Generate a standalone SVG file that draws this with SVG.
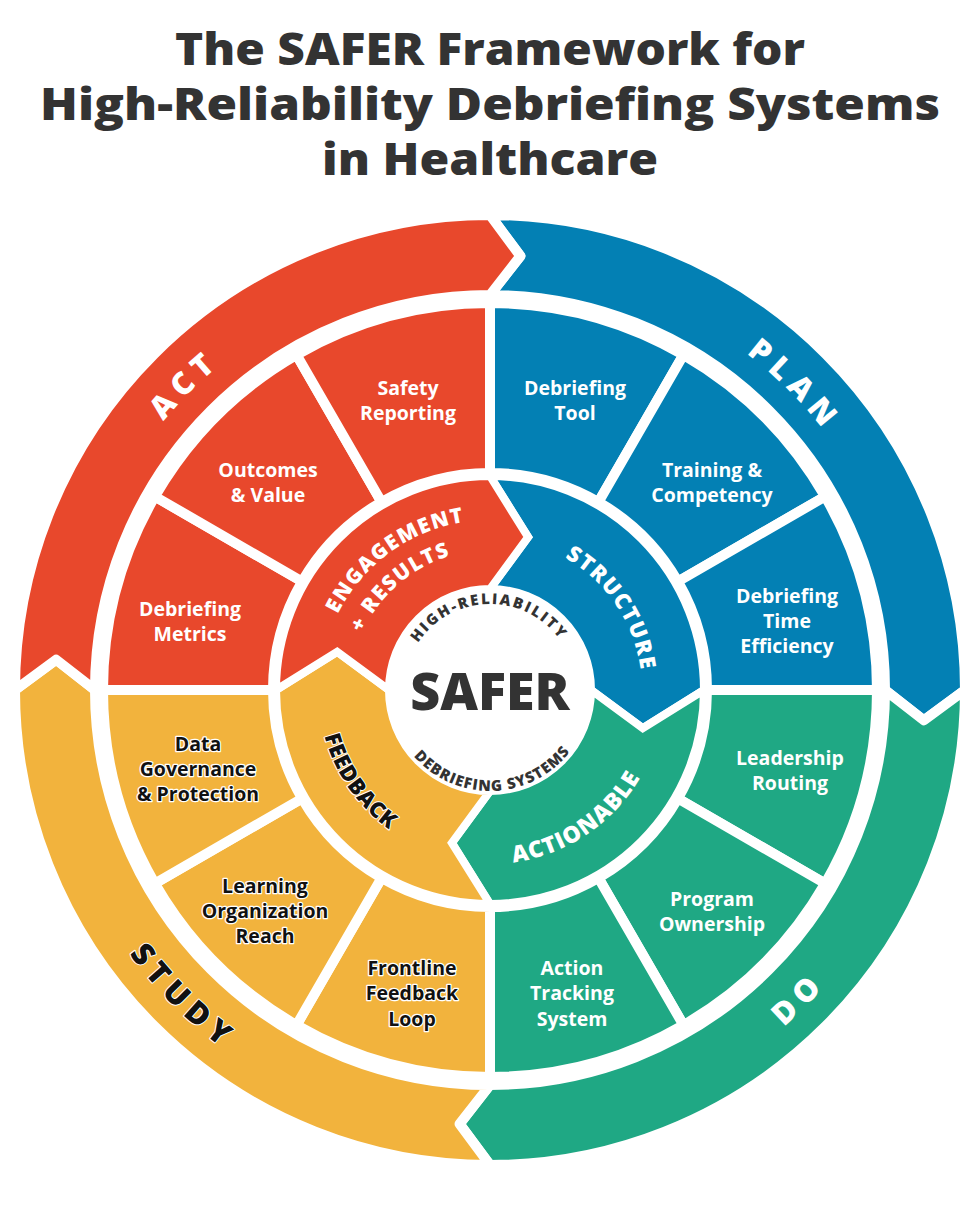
<svg xmlns="http://www.w3.org/2000/svg" xmlns:xlink="http://www.w3.org/1999/xlink" width="980" height="1225" viewBox="0 0 980 1225">
<style>
.title{font-family:"Open Sans","Liberation Sans",sans-serif;font-weight:800;font-size:44px;fill:#333;text-anchor:middle}
.seg{stroke:#fff;stroke-width:10;stroke-linejoin:round}
.inr{stroke:#fff;stroke-width:8}
.st{font-family:"Open Sans","Liberation Sans",sans-serif;font-weight:700;font-size:19.5px;fill:#fff;text-anchor:middle}
.ol{font-family:"Open Sans","Liberation Sans",sans-serif;font-weight:800;font-size:31px;letter-spacing:7px;fill:#fff;text-anchor:middle}
.il{font-family:"Open Sans","Liberation Sans",sans-serif;font-weight:800;font-size:21px;letter-spacing:1.5px;fill:#fff;text-anchor:middle}
.cl{font-family:"Open Sans","Liberation Sans",sans-serif;font-weight:800;font-size:15px;letter-spacing:2px;fill:#333;text-anchor:middle}
text.dk{fill:#111;stroke:#fff;stroke-width:2.5;paint-order:stroke;stroke-linejoin:round}
</style>
<defs>
<path id="oq" d="M0,-475 A475,475 0 0 1 475,0 L433.94,30.35 L395,0 A395,395 0 0 0 0,-395 L30.35,-433.94 Z"/>
<path id="sec" d="M0,-387 A387,387 0 0 1 193.5,-335.15 L108.5,-187.93 A217,217 0 0 0 0,-217 Z"/>
<path id="iq" d="M0,-214 A214,214 0 0 1 214,0 L152.82,38.1 L101,0 A101,101 0 0 0 0,-101 L38.1,-152.82 Z"/>
<path id="cw423" d="M490,1113 A423,423 0 0 1 490,267 A423,423 0 0 1 490,1113"/>
<path id="ccw447" d="M490,243 A447,447 0 0 0 490,1137 A447,447 0 0 0 490,243"/>
<path id="cw170" d="M490,860 A170,170 0 0 1 490,520 A170,170 0 0 1 490,860"/>
<path id="cw140" d="M490,830 A140,140 0 0 1 490,550 A140,140 0 0 1 490,830"/>
<path id="cw152" d="M490,842 A152,152 0 0 1 490,538 A152,152 0 0 1 490,842"/>
<path id="ccw172" d="M490,518 A172,172 0 0 0 490,862 A172,172 0 0 0 490,518"/>
<path id="ccw174" d="M490,516 A174,174 0 0 0 490,864 A174,174 0 0 0 490,516"/>
<path id="cw86" d="M490,776 A86,86 0 0 1 490,604 A86,86 0 0 1 490,776"/>
<path id="ccw101" d="M490,589 A101,101 0 0 0 490,791 A101,101 0 0 0 490,589"/>
</defs>
<rect width="980" height="1225" fill="#fff"/>
<g id="title">
<text class="title" x="490" y="65" textLength="630" lengthAdjust="spacingAndGlyphs">The SAFER Framework for</text>
<text class="title" x="490" y="120" textLength="900" lengthAdjust="spacingAndGlyphs">High-Reliability Debriefing Systems</text>
<text class="title" x="490" y="175" textLength="336" lengthAdjust="spacingAndGlyphs">in Healthcare</text>
</g>
<g id="outer-ring">
<use href="#oq" transform="translate(490 690)" fill="#0380B4" class="seg"/>
<use href="#oq" transform="translate(490 690) rotate(90)" fill="#1FA884" class="seg"/>
<use href="#oq" transform="translate(490 690) rotate(180)" fill="#F2B33D" class="seg"/>
<use href="#oq" transform="translate(490 690) rotate(270)" fill="#E8482C" class="seg"/>
<text class="ol"><textPath href="#cw423" startOffset="37.5%">ACT</textPath></text>
<text class="ol"><textPath href="#cw423" startOffset="62.5%">PLAN</textPath></text>
<text class="ol dk" style="stroke-width:2"><textPath href="#ccw447" startOffset="37.5%">STUDY</textPath></text>
<text class="ol"><textPath href="#ccw447" startOffset="62.5%">DO</textPath></text>
</g>
<g id="segments">
<use href="#sec" transform="translate(490 690) rotate(0)" fill="#0380B4" class="seg"/>
<use href="#sec" transform="translate(490 690) rotate(30)" fill="#0380B4" class="seg"/>
<use href="#sec" transform="translate(490 690) rotate(60)" fill="#0380B4" class="seg"/>
<use href="#sec" transform="translate(490 690) rotate(90)" fill="#1FA884" class="seg"/>
<use href="#sec" transform="translate(490 690) rotate(120)" fill="#1FA884" class="seg"/>
<use href="#sec" transform="translate(490 690) rotate(150)" fill="#1FA884" class="seg"/>
<use href="#sec" transform="translate(490 690) rotate(180)" fill="#F2B33D" class="seg"/>
<use href="#sec" transform="translate(490 690) rotate(210)" fill="#F2B33D" class="seg"/>
<use href="#sec" transform="translate(490 690) rotate(240)" fill="#F2B33D" class="seg"/>
<use href="#sec" transform="translate(490 690) rotate(270)" fill="#E8482C" class="seg"/>
<use href="#sec" transform="translate(490 690) rotate(300)" fill="#E8482C" class="seg"/>
<use href="#sec" transform="translate(490 690) rotate(330)" fill="#E8482C" class="seg"/>
</g>
<g id="seg-safety"><text class="st" x="408" y="395">Safety</text><text class="st" x="408" y="420">Reporting</text></g>
<g id="seg-tool"><text class="st" x="575" y="395">Debriefing</text><text class="st" x="575" y="420">Tool</text></g>
<g id="seg-outcomes"><text class="st" x="268" y="477">Outcomes</text><text class="st" x="268" y="502">&amp; Value</text></g>
<g id="seg-training"><text class="st" x="712" y="477">Training &amp;</text><text class="st" x="712" y="502">Competency</text></g>
<g id="seg-metrics"><text class="st" x="190" y="616">Debriefing</text><text class="st" x="190" y="641">Metrics</text></g>
<g id="seg-time"><text class="st" x="787" y="603">Debriefing</text><text class="st" x="787" y="628">Time</text><text class="st" x="787" y="653">Efficiency</text></g>
<g id="seg-leadership"><text class="st" x="790" y="765">Leadership</text><text class="st" x="790" y="790">Routing</text></g>
<g id="seg-data"><text class="st dk" x="198" y="751">Data</text><text class="st dk" x="198" y="776">Governance</text><text class="st dk" x="198" y="801">&amp; Protection</text></g>
<g id="seg-program"><text class="st" x="712" y="906">Program</text><text class="st" x="712" y="931">Ownership</text></g>
<g id="seg-learning"><text class="st dk" x="265" y="893">Learning</text><text class="st dk" x="265" y="918">Organization</text><text class="st dk" x="265" y="943">Reach</text></g>
<g id="seg-frontline"><text class="st dk" x="412" y="975">Frontline</text><text class="st dk" x="412" y="1000">Feedback</text><text class="st dk" x="412" y="1026">Loop</text></g>
<g id="seg-action"><text class="st" x="572" y="975">Action</text><text class="st" x="572" y="1000">Tracking</text><text class="st" x="572" y="1026">System</text></g>
<g id="inner-ring">
<use href="#iq" transform="translate(490 690)" fill="#0380B4" class="inr"/>
<use href="#iq" transform="translate(490 690) rotate(90)" fill="#1FA884" class="inr"/>
<use href="#iq" transform="translate(490 690) rotate(180)" fill="#F2B33D" class="inr"/>
<use href="#iq" transform="translate(490 690) rotate(270)" fill="#E8482C" class="inr"/>
<text class="il"><textPath href="#cw170" startOffset="40%">ENGAGEMENT</textPath></text>
<text class="il"><textPath href="#cw140" startOffset="38.6%">+ RESULTS</textPath></text>
<text class="il" style="font-size:22px"><textPath href="#cw152" startOffset="65.6%">STRUCTURE</textPath></text>
<text class="il dk" style="stroke-width:2;font-size:22px;letter-spacing:0.5px"><textPath href="#ccw172" startOffset="34.7%">FEEDBACK</textPath></text>
<text class="il" style="font-size:23px;letter-spacing:1px"><textPath href="#ccw174" startOffset="59.4%">ACTIONABLE</textPath></text>
</g>
<g id="center">
<circle cx="490" cy="690" r="101" fill="#fff"/>
<text class="cl"><textPath href="#cw86" startOffset="49.7%">HIGH-RELIABILITY</textPath></text>
<text class="cl" style="letter-spacing:1px"><textPath href="#ccw101" startOffset="50.5%">DEBRIEFING SYSTEMS</textPath></text>
<text x="490" y="710" font-family="'Open Sans','Liberation Sans',sans-serif" font-weight="800" font-size="52" fill="#333" text-anchor="middle">SAFER</text>
</g>
</svg>
